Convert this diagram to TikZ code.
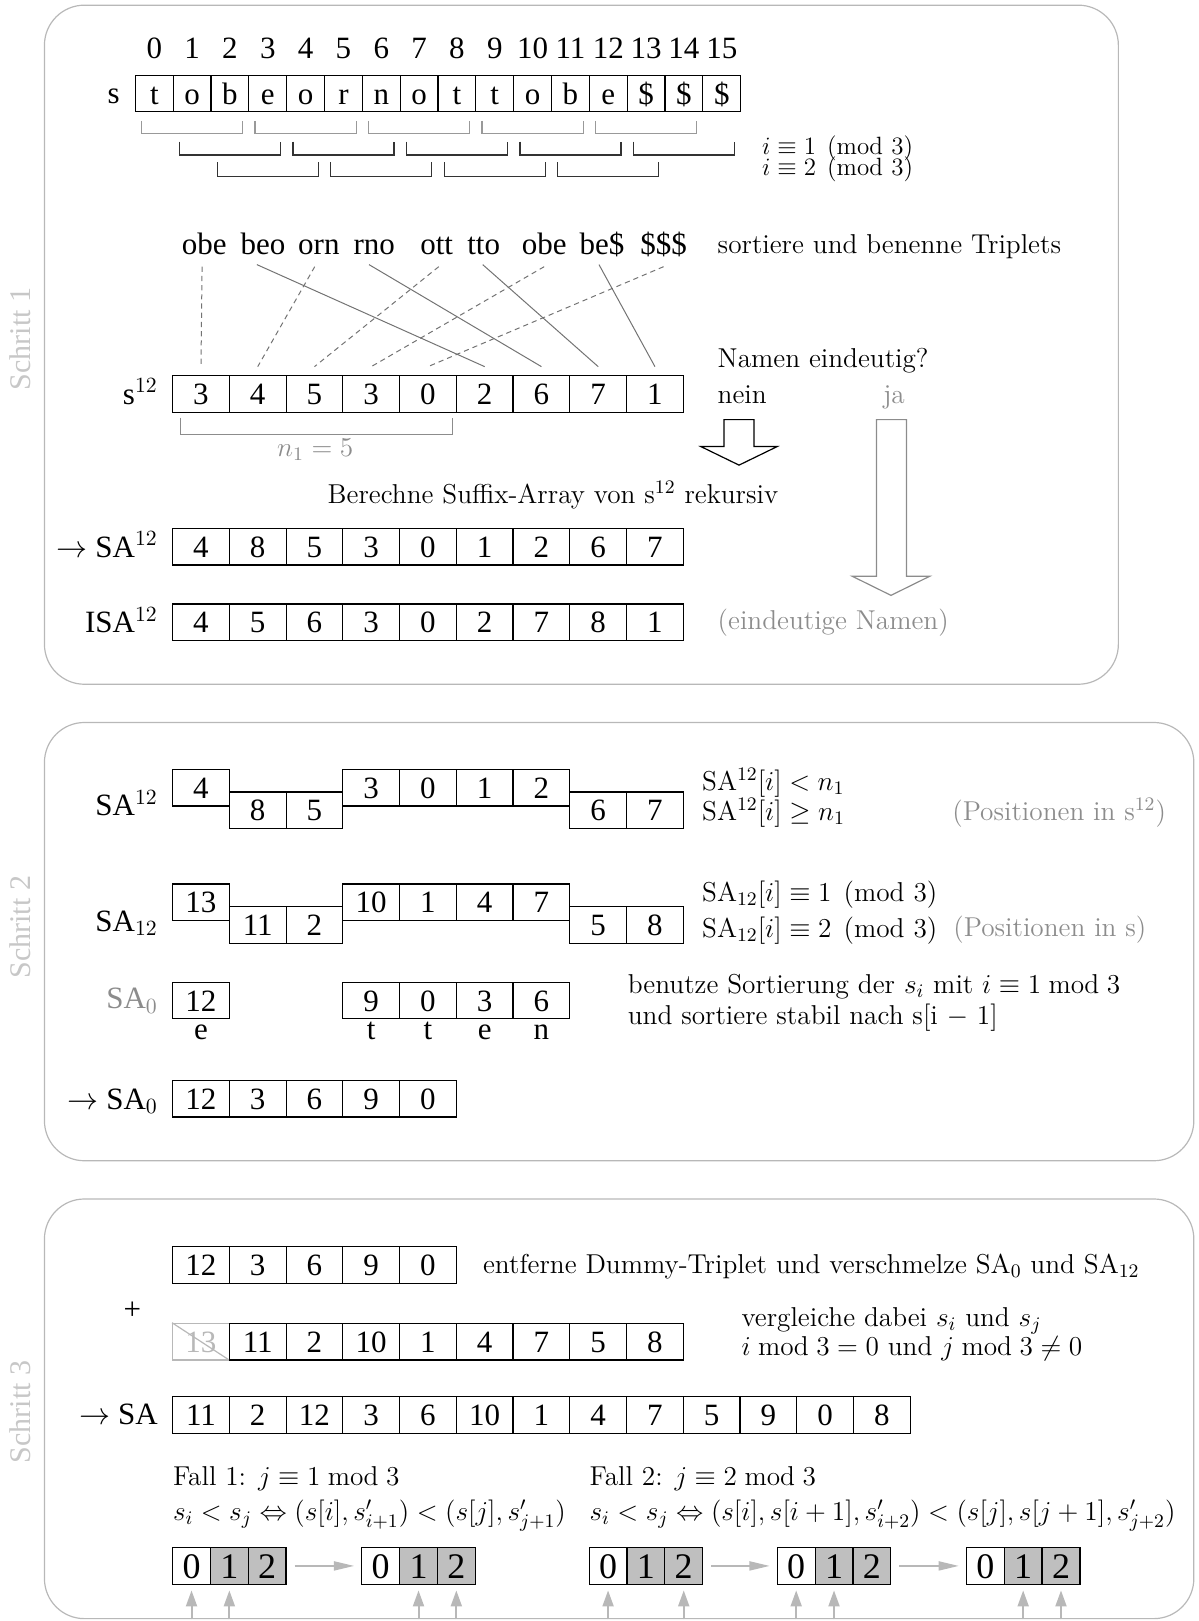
\RequirePackage{fix-cm}
\documentclass[tikz,border=0pt]{standalone}
\usepackage{amsmath}
\usepackage{fontspec}
\newfontfamily\tms{Liberation Serif}
\usetikzlibrary{calc,arrows.meta}
\definecolor{panelgray}{gray}{0.72}
\definecolor{stepgray}{gray}{0.78}
\definecolor{txtgray}{gray}{0.55}
\definecolor{mapgray}{gray}{0.45}
\definecolor{brkgray}{gray}{0.6}
\definecolor{brkdark}{gray}{0.2}
\definecolor{cellfill}{gray}{0.75}
\definecolor{arrgray}{gray}{0.72}
\definecolor{crossgray}{gray}{0.72}
\tikzset{
  panel/.style={draw=panelgray, line width=0.6pt, rounded corners=20pt},
  tfont/.style={font=\tms\fontsize{15.5}{18}\selectfont},
  cfont/.style={font=\fontsize{13.65}{16}\selectfont},
  smallc/.style={font=\fontsize{12.5}{14}\selectfont},
  cellbase/.style={draw, line width=0.6pt, inner sep=0pt, minimum height=18.3pt, text height=10.5pt, text depth=0pt, tfont},
  ncell/.style={cellbase, minimum width=18.91pt},
  wcell/.style={cellbase, minimum width=28.37pt},
  gcell/.style={draw, line width=0.6pt, inner sep=0pt, minimum width=18.91pt, minimum height=18.3pt, text height=12.2pt, text depth=0pt, font=\tms\fontsize{18}{21}\selectfont},
  lbl/.style={tfont, inner sep=0pt, anchor=base east},
  ctext/.style={cfont, inner sep=0pt, anchor=base west},
  stepname/.style={font=\tms\fontsize{15}{18}\selectfont, text=stepgray, rotate=90, inner sep=0pt},
  brk/.style={line width=0.6pt},
  map/.style={draw=mapgray, line width=0.5pt},
  mapdash/.style={map, dash pattern=on 2.6pt off 2pt},
  flowarrow/.style={draw=arrgray, line width=0.6pt, -{Triangle[length=10pt,width=4.6pt]}, shorten <=4pt, shorten >=3.6pt},
  ptrarrow/.style={draw=arrgray, line width=1pt, -{Triangle[length=8pt,width=5.5pt]}, shorten >=2.8pt},
}
\begin{document}
\begin{tikzpicture}[x=0.5168pt, y=-0.5168pt]
\useasboundingbox (0,0) rectangle (1160,1568.3);
% panels
\draw[panel] (43,5) rectangle (1082,662);
\draw[panel] (43,699) rectangle (1155,1123);
\draw[panel] (43,1160) rectangle (1155,1566);
\node[stepname] (st1) at (20,328) {Schritt 1};
\node[stepname] (st2) at (20,897) {Schritt 2};
\node[stepname] (st3) at (20,1366) {Schritt 3};

% ---------------- Schritt 1
\foreach \k in {0,...,15}
  \node[tfont, inner sep=0pt, anchor=base] (idx-\k) at ({149.3+36.6*\k},57) {\k};
\node[tfont, inner sep=0pt, anchor=base] (slabel) at (110,100) {s};
\foreach \c [count=\k from 0] in {t,o,b,e,o,r,n,o,t,t,o,b,e,\$,\$,\$}
  \node[ncell] (s-\k) at ({149.3+36.6*\k},90.5) {\c};
\foreach \p in {0,3,6,9,12}
  \draw[brk, brkgray] ({131+36.6*\p+6},117) -- ({131+36.6*\p+6},129) -- ({131+36.6*(\p+3)-6},129) -- ({131+36.6*(\p+3)-6},117);
\foreach \p in {1,4,7,10,13}
  \draw[brk, brkdark] ({131+36.6*\p+6},137) -- ({131+36.6*\p+6},150) -- ({131+36.6*(\p+3)-6},150) -- ({131+36.6*(\p+3)-6},137);
\foreach \p in {2,5,8,11}
  \draw[brk, brkdark] ({131+36.6*\p+6},157) -- ({131+36.6*\p+6},171) -- ({131+36.6*(\p+3)-6},171) -- ({131+36.6*(\p+3)-6},157);
\node[ctext, smallc] (m1) at (737,149) {$i \equiv 1 \pmod 3$};
\node[ctext, smallc] (m2) at (737,170) {$i \equiv 2 \pmod 3$};

\foreach \w/\x [count=\k] in {obe/197.5,beo/254.5,orn/308.5,rno/362,ott/422.5,tto/468,obe/526.5,be\$/582.5,\$\$\$/642}
  \node[tfont, inner sep=0pt, anchor=base] (t\k) at (\x,246) {\w};
\node[ctext] (sortlbl) at (694,245) {sortiere und benenne Triplets};

\node[lbl] (s12lbl) at (153,391) {s$^{12}$};
\foreach \v [count=\k from 0] in {3,4,5,3,0,2,6,7,1}
  \node[wcell] (a-\k) at ({194.45+54.9*\k},381) {\v};
\foreach \t/\c/\o in {1/0/-2,3/1/-4,5/2/2,7/3/0,9/4/0}
  \draw[mapdash] ($(t\t.base)+(\o,12)$) -- ($(a-\c.north)+(0,-8)$);
\foreach \t/\c/\o in {2/5/-6,4/6/-5,6/7/-1,8/8/-3}
  \draw[map] ($(t\t.base)+(\o,10)$) -- ($(a-\c.north)+(0,-8)$);

\draw[brk, txtgray] (175,404) -- (175,420) -- (438,420) -- (438,404);
\node[cfont, text=txtgray, inner sep=0pt, anchor=base] (n1) at (305,442) {$n_1 = 5$};

\node[ctext] (namen) at (694,356) {Namen eindeutig?};
\node[ctext] (nein) at (694,390) {nein};
\node[cfont, inner sep=0pt, anchor=base, text=txtgray] (ja) at (865,390) {ja};
\draw[line width=0.6pt] (700.5,406) -- (700.5,432) -- (678,432) -- (715,450) -- (752,432) -- (729.5,432) -- (729.5,406) -- cycle;
\draw[line width=0.6pt, draw=txtgray] (848,406) -- (848,557.5) -- (824.5,557.5) -- (862,576) -- (899.5,557.5) -- (877,557.5) -- (877,406) -- cycle;

\node[cfont, inner sep=0pt, anchor=base] (rek) at (535,487) {Berechne Suffix-Array von s$^{12}$ rekursiv};

\node[lbl] (sa12lbl) at (153,539) {$\rightarrow$ SA$^{12}$};
\foreach \v [count=\k from 0] in {4,8,5,3,0,1,2,6,7}
  \node[wcell] (sa-\k) at ({194.45+54.9*\k},529) {\v};
\node[lbl] (isalbl) at (153,612) {ISA$^{12}$};
\foreach \v [count=\k from 0] in {4,5,6,3,0,2,7,8,1}
  \node[wcell] (isa-\k) at ({194.45+54.9*\k},602) {\v};
\node[ctext, text=txtgray] (eind) at (694,609) {(eindeutige Namen)};

% ---------------- Schritt 2
\node[lbl] (b12lbl) at (153,789) {SA$^{12}$};
\foreach \v/\r [count=\k from 0] in {4/0,8/1,5/1,3/0,0/0,1/0,2/0,6/1,7/1}
  \node[wcell] (b-\k) at ({194.45+54.9*\k},{762+22*\r}) {\v};
\node[ctext] (c1) at (679,765) {SA$^{12}[i] < n_1$};
\node[ctext] (c2) at (679,794) {SA$^{12}[i] \geq n_1$};
\node[ctext, text=txtgray] (pos1) at (921,794) {(Positionen in s$^{12}$)};

\node[lbl] (d12lbl) at (153,901) {SA$_{12}$};
\foreach \v/\r [count=\k from 0] in {13/0,11/1,2/1,10/0,1/0,4/0,7/0,5/1,8/1}
  \node[wcell] (d-\k) at ({194.45+54.9*\k},{873+22*\r}) {\v};
\node[ctext] (c3) at (679,872) {SA$_{12}[i] \equiv 1 \pmod 3$};
\node[ctext] (c4) at (679,907) {SA$_{12}[i] \equiv 2 \pmod 3$};
\node[ctext, text=txtgray] (pos2) at (922,906) {(Positionen in s)};

\node[lbl, text=txtgray] (sa0lbl) at (153,976) {SA$_0$};
\node[wcell] (e-0) at (194.45,968) {12};
\foreach \v [count=\k from 3] in {9,0,3,6}
  \node[wcell] (e-\k) at ({194.45+54.9*\k},968) {\v};
\foreach \c/\k in {e/0,t/3,t/4,e/5,n/6}
  \node[tfont, inner sep=0pt, anchor=base] (ch-\k) at ({194.45+54.9*\k},1006) {\c};
\node[ctext] (ben1) at (607,961) {benutze Sortierung der $s_i$ mit $i \equiv 1 \bmod 3$};
\node[ctext] (ben2) at (607,991) {und sortiere stabil nach s[i $-$ 1]};

\node[lbl] (sa0res) at (153,1073) {$\rightarrow$ SA$_0$};
\foreach \v [count=\k from 0] in {12,3,6,9,0}
  \node[wcell] (f-\k) at ({194.45+54.9*\k},1063) {\v};

% ---------------- Schritt 3
\foreach \v [count=\k from 0] in {12,3,6,9,0}
  \node[wcell] (h-\k) at ({194.45+54.9*\k},1224) {\v};
\node[ctext] (entf) at (467,1232) {entferne Dummy-Triplet und verschmelze SA$_0$ und SA$_{12}$};
\node[tfont, inner sep=0pt] (plus) at (128,1268) {+};
\node[wcell, draw=crossgray, text=crossgray] (j-0) at (194.45,1298) {13};
\draw[crossgray, line width=0.6pt] (j-0.north west) -- (j-0.south east);
\foreach \v [count=\k from 1] in {11,2,10,1,4,7,5,8}
  \node[wcell] (j-\k) at ({194.45+54.9*\k},1298) {\v};
\node[ctext] (verg1) at (717,1283) {vergleiche dabei $s_i$ und $s_j$};
\node[ctext] (verg2) at (717,1311) {$i \bmod 3 = 0$ und $j \bmod 3 \neq 0$};

\node[lbl] (salbl) at (153,1378) {$\rightarrow$ SA};
\foreach \v [count=\k from 0] in {11,2,12,3,6,10,1,4,7,5,9,0,8}
  \node[wcell] (r-\k) at ({194.45+54.9*\k},1369) {\v};

\node[ctext] (fall1) at (167,1437) {Fall 1: $j \equiv 1 \bmod 3$};
\node[ctext] (fall2) at (570,1437) {Fall 2: $j \equiv 2 \bmod 3$};
\node[ctext] (f1eq) at (167,1471) {$s_i < s_j \Leftrightarrow (s[i], s'_{i+1}) < (s[j], s'_{j+1})$};
\node[ctext] (f2eq) at (570,1471) {$s_i < s_j \Leftrightarrow (s[i], s[i+1], s'_{i+2}) < (s[j], s[j+1], s'_{j+2})$};

\foreach \g/\gx in {1/167,2/350,3/570,4/752,5/935} {
  \node[gcell] (g\g-0) at ({\gx+18.3},1515) {0};
  \node[gcell, fill=cellfill] (g\g-1) at ({\gx+54.9},1515) {1};
  \node[gcell, fill=cellfill] (g\g-2) at ({\gx+91.5},1515) {2};
}
\draw[flowarrow] (g1-2.east) -- (g2-0.west);
\draw[flowarrow] (g3-2.east) -- (g4-0.west);
\draw[flowarrow] (g4-2.east) -- (g5-0.west);
\foreach \n in {g1-0,g1-1,g2-1,g2-2,g3-0,g3-2,g4-0,g4-1,g5-1,g5-2} {
  \coordinate (\n-foot) at ($(\n.south)+(0,33.5)$);
  \draw[ptrarrow] (\n-foot) -- (\n.south);
}
\end{tikzpicture}
\end{document}
